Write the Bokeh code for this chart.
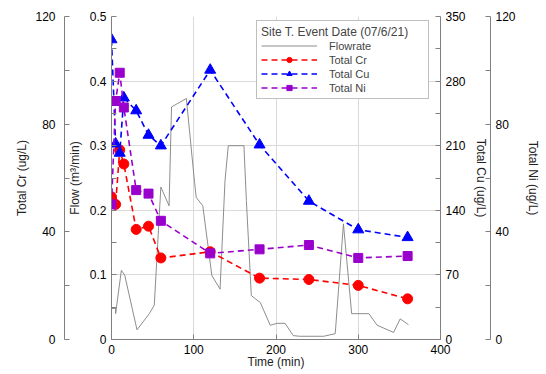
from bokeh.plotting import figure
from bokeh.models import Range1d, LinearAxis, FixedTicker, Legend, LegendItem
from bokeh.embed import file_html
from bokeh.resources import INLINE

# ---- data ----
time_min = [0, 5, 10, 15, 30, 45, 60, 120, 180, 240, 300, 360]
total_cr = [53.0, 50.2, 70.4, 65.2, 40.9, 42.1, 30.3, 32.6, 22.8, 22.3, 20.1, 15.1]
total_cu = [325, 212, 202, 262, 248, 221.5, 210, 292, 211, 150, 119, 110.6]
total_ni = [50.2, 88.6, 99.1, 86.2, 55.5, 54.2, 44.1, 32.0, 33.5, 35.1, 30.3, 31.0]

flow_time = [0, 5, 5, 12, 16, 31, 46, 52, 60, 70, 73, 91, 101, 103, 111, 122, 132,
             138, 142, 161, 164, 170, 181, 193, 201, 211, 221, 229, 258, 272, 282,
             292, 313, 323, 343, 351, 361]
flow_rate = [0.048, 0.048, 0.040, 0.107, 0.100, 0.015, 0.040, 0.053, 0.236, 0.207,
             0.360, 0.373, 0.243, 0.220, 0.207, 0.099, 0.078, 0.246, 0.300, 0.300,
             0.215, 0.068, 0.057, 0.022, 0.025, 0.025, 0.006, 0.005, 0.005, 0.009,
             0.179, 0.040, 0.040, 0.022, 0.011, 0.032, 0.023]

x_ticks = [0, 100, 200, 300, 400]
flow_ticks = [0, 0.1, 0.2, 0.3, 0.4, 0.5]
flow_minor = [0.05, 0.15, 0.25, 0.35, 0.45]
cr_ticks = [0, 40, 80, 120]
cr_minor = [20, 60, 100]
cu_ticks = [0, 70, 140, 210, 280, 350]
cu_minor = [35, 105, 175, 245, 315]
ni_ticks = [0, 40, 80, 120]
ni_minor = [20, 60, 100]

FONT = "Liberation Sans"
AX = "#808080"

p = figure(frame_width=329, frame_height=323,
           x_range=Range1d(0, 400), y_range=Range1d(0, 0.5),
           output_backend="svg", toolbar_location=None,
           min_border_left=111, min_border_right=0, min_border_top=16, min_border_bottom=0)
p.outline_line_color = None
p.background_fill_color = "white"
p.border_fill_color = "white"

p.extra_y_ranges = {"cr": Range1d(0, 120), "cu": Range1d(0, 350), "ni": Range1d(0, 120)}


def style(ax, label, standoff=7, label_standoff=5):
    ax.axis_label = label
    ax.axis_line_color = AX
    ax.major_tick_line_color = AX
    ax.minor_tick_line_color = AX
    ax.major_tick_in = 5
    ax.major_tick_out = 0
    ax.minor_tick_in = 5
    ax.minor_tick_out = 0
    ax.major_label_text_font = FONT
    ax.major_label_text_font_size = "12px"
    ax.major_label_text_color = "black"
    ax.major_label_standoff = label_standoff
    ax.axis_label_text_font = FONT
    ax.axis_label_text_font_size = "12px"
    ax.axis_label_text_font_style = "normal"
    ax.axis_label_text_color = "#222222"
    ax.axis_label_standoff = standoff


# x axis
xa = p.xaxis[0]
xa.ticker = FixedTicker(ticks=x_ticks)
style(xa, "Time (min)", standoff=-2)

# flow axis (inner left)
ya = p.yaxis[0]
ya.ticker = FixedTicker(ticks=flow_ticks, minor_ticks=flow_minor)
ya.major_label_overrides = {0: "0"}
style(ya, "Flow (m³/min)", standoff=5)

# spacer on the left
sp_l = LinearAxis(y_range_name="cr", ticker=FixedTicker(ticks=[]), axis_line_color=None,
                  major_tick_line_color=None, minor_tick_line_color=None,
                  major_tick_out=18, major_tick_in=0, major_label_standoff=0)
p.add_layout(sp_l, "left")

cr_ax = LinearAxis(y_range_name="cr", ticker=FixedTicker(ticks=cr_ticks, minor_ticks=cr_minor))
style(cr_ax, "Total Cr (ug/L)", standoff=3, label_standoff=9)
p.add_layout(cr_ax, "left")

cu_ax = LinearAxis(y_range_name="cu", ticker=FixedTicker(ticks=cu_ticks, minor_ticks=cu_minor))
style(cu_ax, "Total Cu (ug/L)", standoff=5)
p.add_layout(cu_ax, "right")

sp_r = LinearAxis(y_range_name="ni", ticker=FixedTicker(ticks=[]), axis_line_color=None,
                  major_tick_line_color=None, minor_tick_line_color=None,
                  major_tick_out=7, major_tick_in=0, major_label_standoff=0)
p.add_layout(sp_r, "right")

ni_ax = LinearAxis(y_range_name="ni", ticker=FixedTicker(ticks=ni_ticks, minor_ticks=ni_minor))
style(ni_ax, "Total Ni (ug/L)", standoff=7)
p.add_layout(ni_ax, "right")

# grids
p.xgrid.ticker = FixedTicker(ticks=x_ticks)
p.ygrid.ticker = FixedTicker(ticks=flow_ticks)
p.xgrid.grid_line_color = "#DADADA"
p.ygrid.grid_line_color = "#DADADA"

# data
fl = p.line(flow_time, flow_rate, line_color="#808080", line_width=0.9)

DASH = "6 4"
cr_l = p.line(time_min, total_cr, y_range_name="cr", line_color="#FF0000", line_width=1.6, line_dash=DASH)
cr_s = p.scatter(time_min, total_cr, y_range_name="cr", marker="circle", size=10,
                 fill_color="#FF0000", line_color="#FF0000")
cu_l = p.line(time_min, total_cu, y_range_name="cu", line_color="#0000FF", line_width=1.6, line_dash=DASH)
cu_s = p.scatter(time_min, total_cu, y_range_name="cu", marker="triangle", size=11,
                 fill_color="#0000FF", line_color="#0000FF")
ni_l = p.line(time_min, total_ni, y_range_name="ni", line_color="#9900CC", line_width=1.6, line_dash=DASH)
ni_s = p.scatter(time_min, total_ni, y_range_name="ni", marker="square", size=9,
                 fill_color="#9900CC", line_color="#9900CC")

legend = Legend(items=[
    LegendItem(label="Flowrate", renderers=[fl]),
    LegendItem(label="Total Cr", renderers=[cr_l, cr_s]),
    LegendItem(label="Total Cu", renderers=[cu_l, cu_s]),
    LegendItem(label="Total Ni", renderers=[ni_l, ni_s]),
], location=(145, 240))
legend.title = "Site T. Event Date (07/6/21)"
legend.title_text_font = FONT
legend.title_text_font_size = "12px"
legend.title_text_font_style = "normal"
legend.title_text_align = "center"
legend.title_standoff = 0
legend.label_text_font = FONT
legend.label_text_font_size = "11px"
legend.glyph_width = 56
legend.glyph_height = 13
legend.label_height = 13
legend.label_width = 95
legend.label_standoff = 12
legend.spacing = 1
legend.padding = 4
legend.margin = 0
legend.border_line_color = "#808080"
legend.border_line_width = 1
legend.background_fill_color = "white"
legend.background_fill_alpha = 1
p.add_layout(legend)

open("out.html", "w").write(file_html(p, INLINE))
